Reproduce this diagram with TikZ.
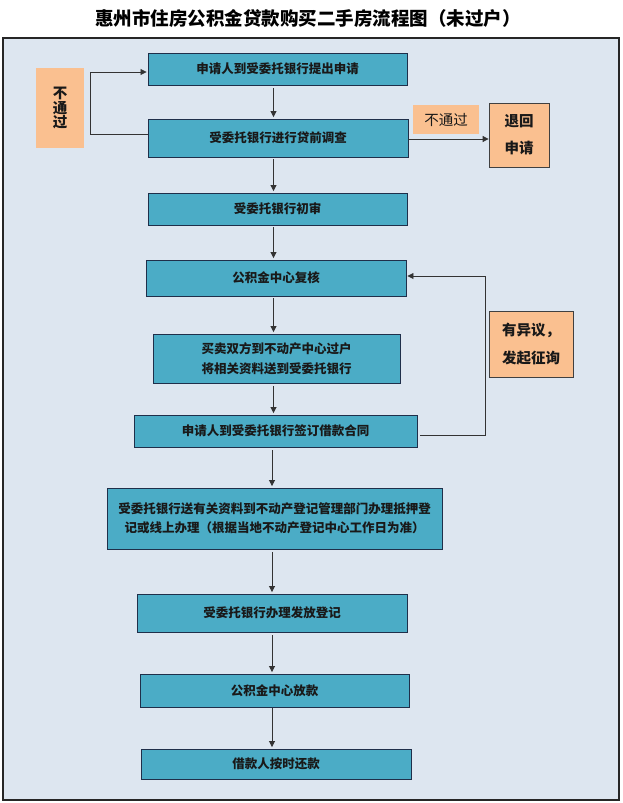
\documentclass[tikz,border=0pt]{standalone}
\usepackage{fontspec}
\setmainfont{Noto Sans CJK SC}
\usetikzlibrary{arrows.meta,calc}
\definecolor{bgpanel}{HTML}{DDE6F0}
\definecolor{boxfill}{HTML}{4BACC6}
\definecolor{boxline}{HTML}{1F2F4A}
\definecolor{peach}{HTML}{FAC090}
\begin{document}
\begin{tikzpicture}[x=1pt,y=-1pt,
  box/.style={draw=boxline, line width=0.9pt, fill=boxfill, inner sep=0pt,
    font=\fontsize{12.5}{19.5}\selectfont\bfseries, text=black!90, align=center},
  note/.style={fill=peach, inner sep=0pt, text=black!90, align=center,
    font=\fontsize{14.5}{27}\selectfont},
  notebox/.style={note, draw=black!75, line width=0.8pt},
  arr/.style={-{Triangle[length=6pt,width=6pt]}, line width=0.8pt, draw=black!80}]
\useasboundingbox (0,0) rectangle (622,803);
\fill[white] (0,0) rectangle (622,803);
\draw[fill=bgpanel, line width=1.2pt, draw=black!85] (3,38) rectangle (619,800);
\node[font=\fontsize{18.5}{22}\selectfont\bfseries] (title) at (308,18) {惠州市住房公积金贷款购买二手房流程图（未过户）};

\node[box, minimum width=259pt, minimum height=32pt] (b1) at (277.5,69) {申请人到受委托银行提出申请};
\node[box, minimum width=260pt, minimum height=38pt] (b2) at (278,138) {受委托银行进行贷前调查};
\node[box, minimum width=259pt, minimum height=32pt] (b3) at (277.5,209) {受委托银行初审};
\node[box, minimum width=260pt, minimum height=36pt] (b4) at (276,278) {公积金中心复核};
\node[box, minimum width=247pt, minimum height=49pt] (b5) at (276.5,358.5) {买卖双方到不动产中心过户\\将相关资料送到受委托银行};
\node[box, minimum width=283pt, minimum height=32pt] (b6) at (275.5,431) {申请人到受委托银行签订借款合同};
\node[box, minimum width=335pt, minimum height=61pt] (b7) at (274.5,518.5) {受委托银行送有关资料到不动产登记管理部门办理抵押登\\记或线上办理（根据当地不动产登记中心工作日为准）};
\node[box, minimum width=270pt, minimum height=38pt] (b8) at (272,613) {受委托银行办理发放登记};
\node[box, minimum width=269pt, minimum height=33pt] (b9) at (274.5,690.5) {公积金中心放款};
\node[box, minimum width=270pt, minimum height=30pt] (b10) at (276,764) {借款人按时还款};

\node[note, minimum width=48pt, minimum height=80pt, font=\fontsize{14.5}{14.5}\selectfont\bfseries] (nl) at (60,108) {不\\通\\过};
\node[note, minimum width=66pt, minimum height=29pt] (nr) at (446,119.5) {不通过};
\node[notebox, minimum width=60pt, minimum height=64pt, font=\fontsize{14.5}{27}\selectfont\bfseries] (rej) at (519,135) {退回\\申请};
\node[notebox, minimum width=84pt, minimum height=66pt, align=left, font=\fontsize{14.5}{28}\selectfont\bfseries] (obj) at (531,344) {有异议，\\发起征询};

\coordinate (ax) at (273.5,0);
\coordinate (bx) at (272,0);
\coordinate (lx) at (90,0);
\coordinate (rx) at (485,0);

\draw[arr, shorten <=3pt, shorten >=1.5pt] (b1.south -| ax) -- (b2.north -| ax);
\draw[arr, shorten <=2pt, shorten >=1.5pt] (b2.south -| ax) -- (b3.north -| ax);
\draw[arr, shorten <=2pt, shorten >=1.5pt] (b3.south -| ax) -- (b4.north -| ax);
\draw[arr, shorten <=2pt, shorten >=1.5pt] (b4.south -| ax) -- (b5.north -| ax);
\draw[arr, shorten <=3pt, shorten >=1.5pt] (b5.south -| ax) -- (b6.north -| ax);
\draw[arr, shorten <=3pt, shorten >=1.5pt] (b6.south -| bx) -- (b7.north -| bx);
\draw[arr, shorten <=3pt, shorten >=1.5pt] (b7.south -| bx) -- (b8.north -| bx);
\draw[arr, shorten <=3pt, shorten >=1.5pt] (b8.south -| bx) -- (b9.north -| bx);
\draw[arr, shorten <=1pt, shorten >=1.5pt] (b9.south -| bx) -- (b10.north -| bx);

\draw[arr] ([yshift=4pt]b2.west) -- ([yshift=4pt]b2.west -| lx) -- ([yshift=-3pt]b1.west -| lx) -- ([yshift=-3pt,xshift=-1pt]b1.west);
\draw[arr] ([yshift=-1pt]b2.east) -- ([yshift=-1pt]b2.east -| rej.west);
\draw[arr] ([xshift=3pt,yshift=-4pt]b6.east) -- ([yshift=-4pt]b6.east -| rx) -- ([yshift=2pt]b4.east -| rx) -- ([xshift=1pt,yshift=2pt]b4.east);
\end{tikzpicture}
\end{document}
